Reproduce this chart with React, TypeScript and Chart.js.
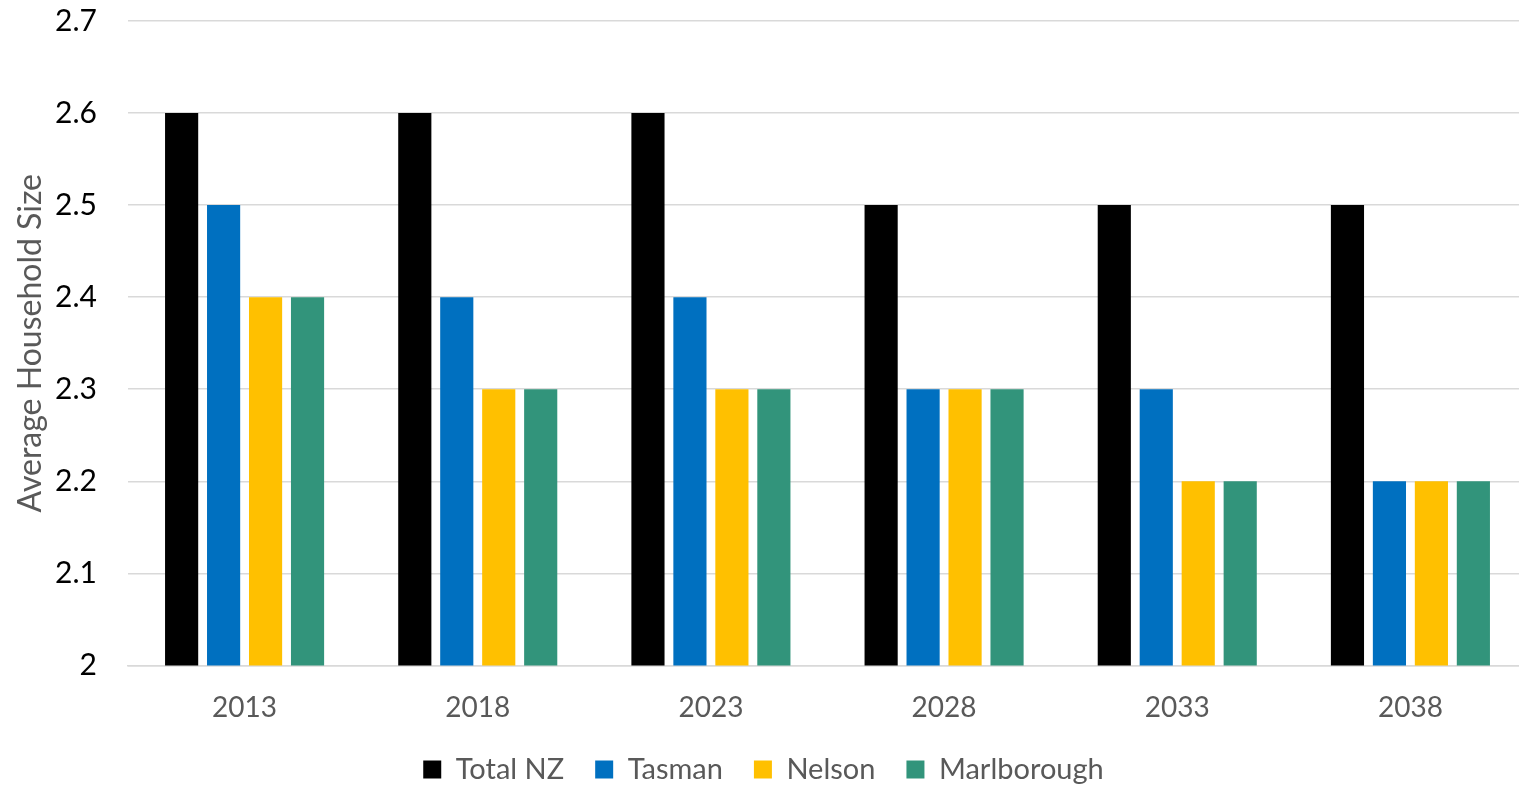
import React, { useEffect, useRef } from "react";
import { Chart, registerables } from "chart.js";

Chart.register(...registerables);

const years = ["2013", "2018", "2023", "2028", "2033", "2038"];
const totalNZ = [2.6, 2.6, 2.6, 2.5, 2.5, 2.5];
const tasman = [2.5, 2.4, 2.4, 2.3, 2.3, 2.2];
const nelson = [2.4, 2.3, 2.3, 2.3, 2.2, 2.2];
const marlborough = [2.4, 2.3, 2.3, 2.3, 2.2, 2.2];
const yTicks = [2, 2.1, 2.2, 2.3, 2.4, 2.5, 2.6, 2.7];

const FONT = "Lato, 'Open Sans', sans-serif";
const GREY = "#595959";

export default function App() {
  const ref = useRef<HTMLCanvasElement | null>(null);

  useEffect(() => {
    document.body.style.margin = "0";
    document.body.style.overflow = "hidden";
    const ctx = ref.current!.getContext("2d")!;
    const series = [
      { label: "Total NZ", data: totalNZ, color: "#000000" },
      { label: "Tasman", data: tasman, color: "#0070C0" },
      { label: "Nelson", data: nelson, color: "#FFC000" },
      { label: "Marlborough", data: marlborough, color: "#32947B" },
    ];
    const chart = new Chart(ctx, {
      type: "bar",
      data: {
        labels: years,
        datasets: series.map((s) => ({
          label: s.label,
          data: s.data,
          backgroundColor: s.color,
          borderWidth: 0,
          categoryPercentage: 0.72,
          barPercentage: 0.79,
        })),
      },
      options: {
        animation: false,
        responsive: false,
        maintainAspectRatio: false,
        layout: { autoPadding: false, padding: { top: 21, right: 8, bottom: -8, left: 0 } },
        plugins: {
          tooltip: { enabled: false },
          legend: {
            position: "bottom",
            labels: {
              font: { family: FONT, size: 29 },
              color: GREY,
              boxWidth: 18,
              boxHeight: 18,
              padding: 31,
            },
          },
        },
        scales: {
          x: {
            afterFit: (axis: any) => {
              axis.height = axis.height - 27;
            },
            grid: { display: false, drawTicks: false },
            border: { display: true, color: "#d9d9d9", width: 1.5 },
            ticks: {
              font: { family: FONT, size: 28 },
              color: GREY,
              padding: 26,
            },
          },
          y: {
            min: 2,
            max: 2.7,
            afterBuildTicks: (axis: any) => {
              axis.ticks = yTicks.map((v) => ({ value: v }));
            },
            afterFit: (axis: any) => {
              axis.width = 128;
              axis.paddingTop = 0;
              axis.paddingBottom = 0;
            },
            grid: { color: "#d9d9d9", lineWidth: 1.5, drawTicks: false },
            border: { display: false },
            ticks: {
              font: { family: FONT, size: 30 },
              color: "#000000",
              padding: 31,
              callback: (v: any) => String(Number(Number(v).toFixed(1))),
            },
            title: {
              display: true,
              text: "Average Household Size",
              font: { family: FONT, size: 32 },
              color: GREY,
              padding: { top: 11, bottom: 0 },
            },
          },
        },
      },
    });
    return () => chart.destroy();
  }, []);

  return (
    <div style={{ position: "absolute", left: 0, top: 0, width: 1535, height: 786 }}>
      <canvas ref={ref} width={1535} height={786} />
    </div>
  );
}
